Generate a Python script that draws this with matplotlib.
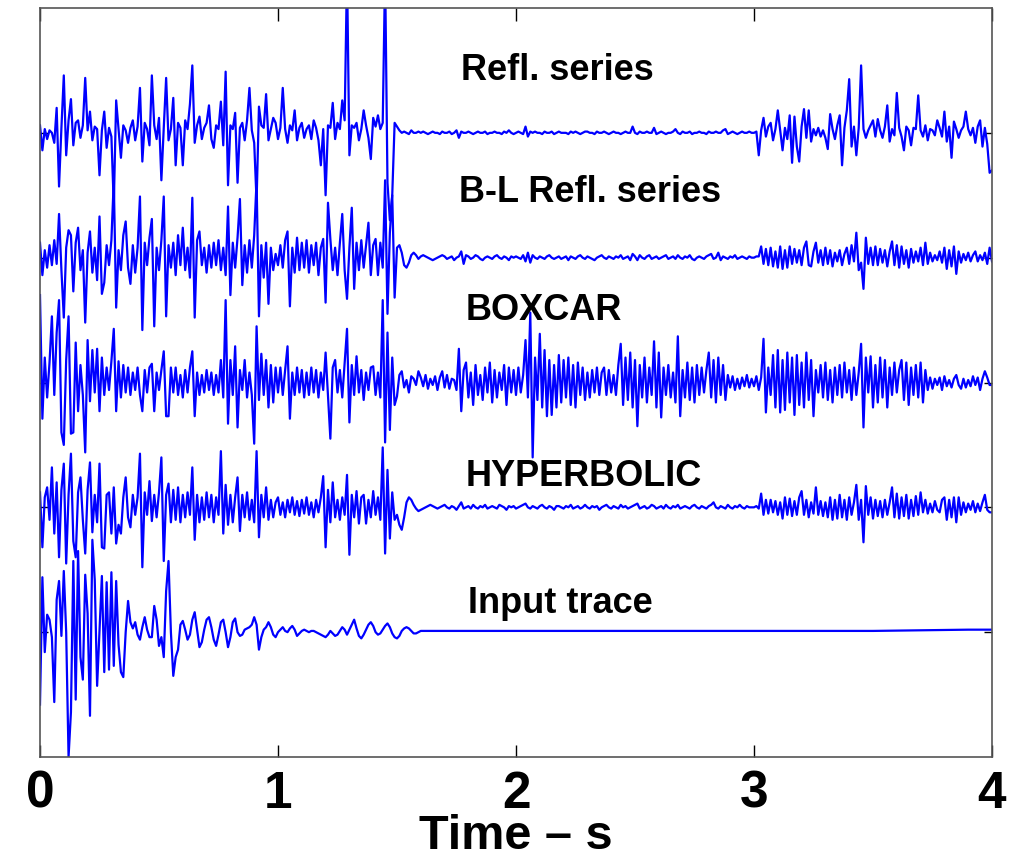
"""Deconvolution comparison: reflection series, B-L, boxcar, hyperbolic and input trace."""

import numpy as np
import matplotlib.pyplot as plt

plt.switch_backend("Agg")

DT = 0.01  # s, sample interval of the digitised traces
# amplitudes are in percent of the trace spacing (positive = up)

refl = [
    6, -14, 3, -5, 2, 0, -8, 20, -43, 4,
    46, -18, 10, 27, -10, 8, 10, -4, 6, 44,
    2, 17, -6, 5, 3, -34, 2, 17, -12, 4,
    -3, -58, 26, 3, -20, 6, 2, -8, 4, 10,
    -6, 5, 36, -23, 8, 3, -10, 46, 6, -5,
    12, -38, 4, 44, -6, 3, 28, -26, 8, 4,
    -26, 10, 3, 23, 54, -8, 6, 13, -5, 4,
    8, 22, -5, -12, 6, 3, 25, -10, 49, -42,
    6, 3, 16, -40, 4, 8, -6, 10, 36, 2,
    -8, -55, 21, 6, 4, 31, -6, 3, 12, 8,
    -5, 4, 36, 3, -8, 6, 2, 18, -6, 4,
    8, -4, 3, 6, -5, 10, 4, -6, -26, 3,
    -50, 6, 4, 24, -5, 8, 3, 26, 10, 130,
    -18, 6, 4, 8, -6, 3, 18, 6, -4, -21,
    12, 5, 14, 3, 8, 130, -40, -70, -50, 8,
    5, 2, 0, 1, 0, -1, 2, 0, 0, 1,
    0, 1, 0, -1, 0, 1, 0, 0, -1, 1,
    0, 0, 1, -1, 0, 2, -4, 1, 0, 0,
    1, 0, -1, 0, 1, 0, 0, 1, -1, 0,
    0, 1, 0, 0, -1, 1, 0, 2, 0, -1,
    0, 1, 0, -1, 5, -3, 1, 0, 1, 0,
    0, -1, 1, 0, 0, 1, -1, 0, 1, 0,
    0, 0, -1, 1, 0, 1, 0, -1, 0, 1,
    1, 0, 0, -1, 1, 0, 0, 1, 0, -1,
    0, 1, 0, 0, -1, 0, 1, 0, 0, 5,
    0, -1, 1, 0, 0, 1, 0, 0, 4, -1,
    0, 1, 0, -1, 0, 0, 1, 3, 0, -1,
    1, 0, 0, 1, -1, 0, 0, 1, 0, 0,
    -1, 1, 0, 0, 1, 0, 0, 2, 3, -1,
    0, 1, 0, -1, 0, 1, 0, 0, 1, 0,
    0, 1, -18, 2, 12, -3, 5, 8, -6, 3,
    18, 2, -14, 4, -5, 14, -24, 13, -11, -23,
    5, 19, -4, 18, -7, 3, -2, 4, -3, 2,
    -4, -13, 15, 3, -5, 6, 14, -26, 4, 18,
    43, -11, 5, -18, 4, 54, 3, -4, 2, 6,
    10, -3, 11, 2, -4, 5, 22, -7, 3, -2,
    32, 4, -3, -14, 5, 2, -10, 4, 3, 30,
    2, -3, 6, -6, 3, 2, -2, 10, 4, -3,
    17, -7, 5, -20, 9, 3, -4, 2, 5, 17,
    3, -2, 4, -8, 5, 10, -11, 4, -9, -32,
    -30,
]

bl_refl = [
    12, -14, 6, -8, 10, -6, 14, -5, 35, -10,
    -48, 8, 22, 18, -27, 12, 24, -10, 6, -52,
    4, 21, -12, 8, -18, 33, -29, -20, 10, -6,
    14, 62, -40, 6, -10, 18, 29, -8, -21, 10,
    -12, 8, 49, -58, 12, -6, 16, 31, -55, 8,
    -10, 14, 49, -47, 10, -8, 12, -14, 18, -6,
    24, -10, 8, -16, 48, -48, 14, 21, -6, 8,
    -12, 10, -8, 12, -6, 14, -10, 8, -14, 41,
    -30, 12, -8, 16, 47, -22, 10, -12, 14, -8,
    18, 62, -47, 10, -16, 12, -37, 8, -10, 3,
    -6, 10, -8, 14, 21, -39, 8, -12, 16, -10,
    12, -8, 14, -12, 10, -6, 12, -14, 8, 15,
    -36, 44, 15, -10, 8, -14, 12, 35, -10, -33,
    8, 40, -25, 12, -10, 14, -8, 10, 28, -14,
    10, 15, -14, 12, -8, 62, -45, 20, 50, -32,
    8, 10, 4, -6, -8, -4, 2, 4, 2, -1,
    1, 2, 1, 0, -1, -2, -1, 0, 1, 2,
    1, -1, 0, 1, -2, 0, 1, 5, -5, 2,
    1, -1, 0, 2, 1, -1, -2, 0, 1, 0,
    -1, 1, 2, 0, -1, 1, 0, -2, 1, 0,
    1, 0, -1, 2, -3, 4, -4, 2, 0, -1,
    1, 0, -1, 1, 2, 0, -1, 0, 1, -1,
    0, 1, -2, 1, 0, -1, 1, 2, 0, -1,
    1, 0, -1, -2, 0, 1, 2, 0, -1, 1,
    0, -1, 1, 0, 2, -1, 0, 1, -2, 3,
    1, -2, 2, 0, -1, 1, 2, -1, 0, 1,
    -1, 0, 1, 2, -1, 0, 1, -1, 2, 0,
    -1, 1, 0, 2, -1, -2, 0, 1, 0, -1,
    1, 2, 3, -1, 0, 4, -2, 1, 0, -1,
    1, 0, 2, -1, 0, 1, 0, -1, 1, 0,
    0, 1, 1, 9, -5, 7, -6, 8, -7, 5,
    -8, 9, -9, 6, -8, 9, -5, 7, -4, 6,
    -6, 8, 13, -6, -7, 5, 12, -4, 6, -6,
    8, -5, 6, -7, 4, -3, 6, -6, 3, 8,
    -5, 10, -3, 20, -10, -4, -25, 16, -5, 8,
    -6, 9, -6, 7, -4, 6, -7, 5, 13, -6,
    10, -8, 9, -5, 6, -8, 7, -4, 5, -3,
    8, -6, 12, -5, 4, -3, 2, -2, 5, -4,
    8, -9, 6, -7, 9, -13, 5, -4, 3, -2,
    4, -3, 2, 5, -3, 2, -2, 4, -5, 8,
    -3,
]

boxcar = [
    70, -29, 20, -12, 16, 53, -10, 40, 66, -40,
    -50, 18, 53, -41, -40, 32, -23, 14, -10, -56,
    34, -15, 26, -8, 27, -23, 20, -10, 12, -6,
    17, 43, -23, 17, -12, 14, -8, 12, -10, 8,
    -6, 12, -10, -23, 10, -8, 12, 15, -23, 8,
    -6, 10, 25, -27, -27, 12, -8, 12, -10, 6,
    -12, 10, -8, 12, 25, -27, 8, -10, 6, -8,
    10, -6, 8, -10, 6, -8, 18, -12, 66, -33,
    18, -10, 29, -36, 10, -6, 18, -12, 8, -10,
    -49, 45, -14, 23, -10, 18, -20, 14, -16, 12,
    -8, 12, -10, 10, 29, -29, 8, -10, 12, -8,
    10, -12, 8, -10, 12, -8, 10, -12, 8, -6,
    24, -10, -45, 12, 18, -8, 10, -12, 16, 43,
    -32, 14, -10, 21, -8, 10, -14, 8, -6, 12,
    13, -10, 8, -12, 66, -48, 40, -38, 20, -18,
    -11, 6, 9, -4, 2, -8, 5, 3, -2, 9,
    4, -3, 6, -5, 3, -2, 5, -6, 4, 9,
    -4, 6, -5, 3, 2, -6, 27, -23, 10, 16,
    -12, 8, -18, 14, -10, 6, -14, 12, -8, 16,
    -16, 10, -12, 8, -6, 14, -18, 12, -8, 10,
    -10, 12, -8, 6, 34, -12, 56, -60, 20, -14,
    39, -20, 26, -27, 18, -26, 14, -20, 22, -16,
    18, -12, 20, -18, 14, -20, 16, -10, 12, -14,
    8, -12, 10, -8, 12, -10, 8, 12, -10, 10,
    -8, 6, -10, 14, 31, -18, 20, -14, 24, -20,
    18, -35, 14, -12, 20, -16, 12, -10, 33, -20,
    24, -28, 12, -10, 14, -12, 8, -16, 37, -27,
    10, -12, 16, -14, 12, -16, 14, -10, 12, -8,
    10, 24, -12, 18, -16, 20, -10, 14, -14, 6,
    -4, 5, -6, 3, -5, 4, -3, 6, -4, 3,
    -3, 5, -6, 4, 35, -24, 12, -10, 22, -20,
    26, -24, 18, -22, 24, -16, 20, -26, 22, -18,
    16, -20, 24, -14, 18, -27, 10, -8, 14, -12,
    16, -14, 10, -16, 12, -10, 14, -12, 16, -8,
    10, -14, 12, -10, 8, 31, -36, 20, -8, 21,
    -20, 14, -16, 20, -12, 18, -20, 12, -10, 16,
    -8, 10, 18, -14, 16, -18, 12, -10, 14, -12,
    16, -16, 10, -6, 4, -5, 3, -2, 4, -6,
    5, -3, 2, -4, 3, 6, -2, -5, 3, -4,
    2, -3, 5, -2, 4, -6, 3, 9, 4, -2,
    -2,
]

hyperbolic = [
    12, -32, 8, 16, -10, 32, -21, 20, -40, 14,
    35, -45, 10, 43, -27, -40, 12, 24, -10, -37,
    14, 36, -20, 10, -12, 35, -32, -33, 10, 12,
    -21, 16, -29, -14, -21, 8, 24, -8, -16, 10,
    -6, 8, 43, -48, 12, -6, 21, -11, 10, -8,
    12, 40, -43, 10, 19, -12, 14, -10, 16, -12,
    10, -8, 12, -6, 32, -26, 10, -12, 8, -10,
    12, -8, 10, -12, 8, -6, 45, -21, 18, -14,
    10, -12, 8, 24, -19, 10, -8, 12, -10, 6,
    -12, 45, -24, 10, -8, 16, -10, 6, -8, 4,
    8, -6, 4, -8, 6, -4, 8, -6, 5, -7,
    6, -5, 8, -6, 4, -8, 6, -4, 8, 25,
    -32, 14, -12, 20, -8, 6, -10, 8, -6, 26,
    -38, 10, -8, 13, -13, 8, 10, -13, 6, -8,
    13, -6, 8, -10, 48, -37, 30, -25, 12, -10,
    -6, -14, -18, -8, 4, 8, 6, 2, -1, -3,
    -2, -1, 0, 1, 2, 1, 0, -1, 0, 1,
    2, 0, -1, 1, 0, -2, 1, 4, -1, 0,
    1, -1, 2, 0, -1, 1, 0, 2, -1, 0,
    1, 0, -1, 2, 1, 0, -2, 1, 0, 1,
    -1, 0, 1, 2, 3, 0, -1, 1, 0, -1,
    1, 2, 0, -1, 1, 0, -2, 1, 1, 0,
    -1, 1, 0, 2, -1, 0, 1, -1, 0, 2,
    0, -1, 1, 0, 1, -2, 0, 1, 2, 0,
    -1, 1, 0, -1, 2, 0, 1, -1, 0, 1,
    2, 3, -1, 0, 1, -1, 0, 2, 1, -1,
    0, 1, -1, 2, 0, -1, 1, 0, 2, -1,
    0, 1, 0, -1, 1, 2, 0, -1, 1, 0,
    -1, 1, 2, 4, 0, -1, 1, 0, -1, 2,
    0, -1, 1, 0, 2, 0, -1, 1, 0, 0,
    0, 1, -1, 11, -6, 6, -5, 6, -4, 5,
    -6, 4, -9, 8, -6, 7, -7, 5, -6, 8,
    13, -6, 6, -8, 4, -5, 16, -6, 5, -7,
    4, -8, 8, -10, 6, -9, 10, -8, 6, -10,
    8, -6, 4, 18, -10, 6, -28, 17, -6, 8,
    -9, 6, -7, 5, -8, 6, -6, 4, 16, -8,
    11, -9, 8, -7, 10, -9, 6, -7, 9, -6,
    12, -4, 6, -5, 3, -4, 5, -2, -4, 6,
    8, -10, 6, -8, 8, -12, 8, -6, 4, -4,
    3, -2, 5, -4, 3, -3, 4, 10, -2, -4,
    -4,
]

# input trace: 0-1.6 s sampled every DT, then the flat tail
input_trace = [
    -58, 44, -16, 14, 10, -4, -56, 26, 41, -3,
    49, 0, -100, -64, 57, -54, 65, -20, -38, 46,
    15, -67, 74, 42, -43, 0, 45, -32, 40, -30,
    48, -27, 41, -10, -32, -36, 0, 25, 8, 3,
    8, -2, -6, 4, 12, 2, -4, -4, 21, 10,
    -11, -4, -20, 33, 57, 0, -35, -20, -14, 6,
    9, 2, -6, -2, 10, 16, 2, -12, -8, 2,
    10, 12, 4, -6, -11, -2, 8, 10, 0, -12,
    -4, 8, 11, 0, -3, -2, 2, 3, 4, 6,
    12, 6, -14, -4, 2, 4, 8, 4, -2, -4,
    0, 2, 4, 1, 0, 3, 5, 2, -3, -1,
    1, 2, 1, 0, 1, 1, 0, -1, -2, -3,
    -4, -2, 1, -1, -3, -2, 1, 4, 2, -2,
    2, 6, 10, 3, -3, -5, -2, 2, 6, 8,
    5, 0, -2, -1, 2, 5, 7, 4, -1, -4,
    -5, -3, 1, 3, 4, 3, 1, -1, -1, 0,
    1,
]
input_tail_t = [1.7, 2.0, 2.5, 3.0, 3.5, 3.9, 4.0]
input_tail = [1, 1, 1, 1, 1, 2, 2]

labels = ["Refl. series", "B-L Refl. series", "BOXCAR", "HYPERBOLIC", "Input trace"]
offsets = [5, 4, 3, 2, 1]
label_pos = [(1.77, 5.50), (1.76, 4.52), (1.79, 3.58), (1.79, 2.25), (1.80, 1.23)]

for s in (refl, bl_refl, boxcar, hyperbolic):
    assert len(s) == 401, len(s)
assert len(input_trace) == 161, len(input_trace)

FONT = "Liberation Sans"
BLUE = "#0000ff"

fig = plt.figure(figsize=(10.09, 8.65), dpi=100)
ax = fig.add_axes([40 / 1009, 108 / 865, 952 / 1009, 749 / 865])

for series, off in zip([refl, bl_refl, boxcar, hyperbolic], offsets[:4]):
    t = np.arange(len(series)) * DT
    ax.plot(t, off + np.asarray(series) / 100.0, color=BLUE, lw=1.6)

t_in = np.concatenate([np.arange(len(input_trace)) * DT, input_tail_t])
v_in = np.concatenate([input_trace, input_tail]) / 100.0
ax.plot(t_in, offsets[4] + v_in, color=BLUE, lw=1.6)

for text, (x, y) in zip(labels, label_pos):
    ax.text(x, y, text, family=FONT, fontsize=26, fontweight="bold",
            ha="left", va="center")

ax.set_xlim(0, 4)
ax.set_ylim(0, 6)
ax.set_xticks([0, 1, 2, 3, 4])
ax.set_yticks(offsets)
ax.tick_params(axis="x", direction="in", length=9, width=1, top=True,
               pad=9, labelsize=37)
ax.tick_params(axis="y", direction="in", length=6, width=1, right=True,
               labelleft=False)
for lab in ax.get_xticklabels():
    lab.set_family(FONT)
    lab.set_fontweight("bold")
for sp in ax.spines.values():
    sp.set_color("#555555")
    sp.set_linewidth(1.2)
ax.set_xlabel("Time – s", family=FONT, fontsize=35, fontweight="bold", labelpad=-3)

fig.savefig("out.png", dpi=100)
